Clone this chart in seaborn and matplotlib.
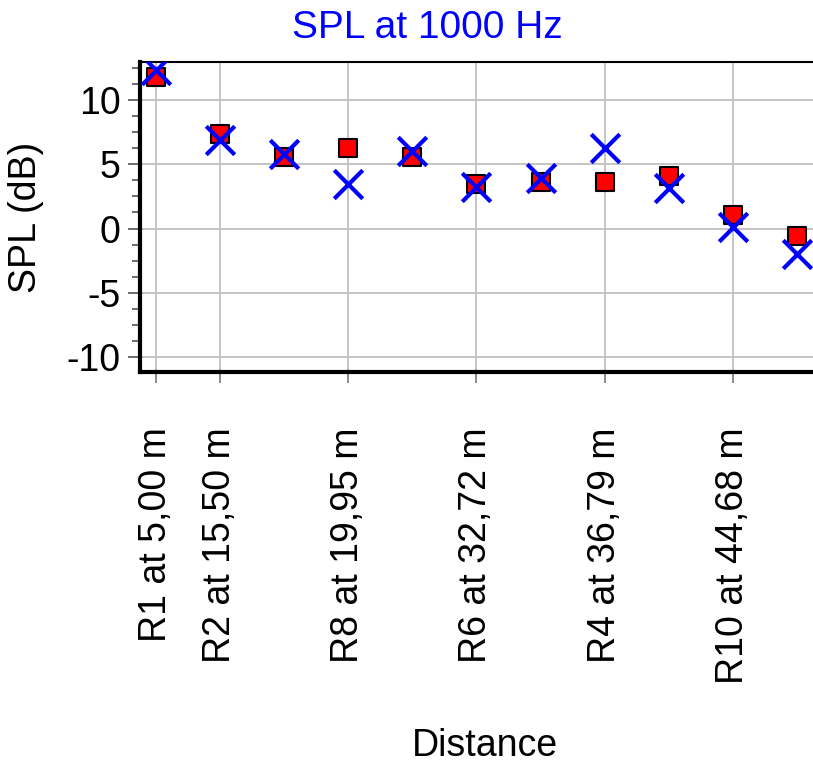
import numpy as np
import pandas as pd
import matplotlib
matplotlib.use("Agg")
import matplotlib.pyplot as plt
from matplotlib.ticker import MultipleLocator
import seaborn as sns

# receiver index along the x axis (evenly spaced categories)
receiver_idx = [0, 1, 2, 3, 4, 5, 6, 7, 8, 9, 10]
spl_measured = [11.8, 7.35, 5.6, 6.3, 5.6, 3.45, 3.65, 3.65, 4.1, 1.05, -0.6]
spl_predicted = [12.3, 6.85, 5.8, 3.5, 6.0, 3.2, 3.9, 6.3, 3.15, 0.1, -2.0]

# only some receivers get a visible label
tick_idx = [0, 1, 3, 5, 7, 9]
tick_labels = ["R1 at 5,00 m", "R2 at 15,50 m", "R8 at 19,95 m",
               "R6 at 32,72 m", "R4 at 36,79 m", "R10 at 44,68 m"]
y_ticks = [-10, -5, 0, 5, 10]

sns.set_style("white")
plt.rcParams["font.family"] = ["Liberation Sans", "DejaVu Sans"]
plt.rcParams["text.color"] = "black"
plt.rcParams["axes.labelcolor"] = "black"
plt.rcParams["xtick.labelcolor"] = "black"
plt.rcParams["ytick.labelcolor"] = "black"

df = pd.DataFrame({"idx": receiver_idx, "measured": spl_measured, "predicted": spl_predicted})

fig = plt.figure(figsize=(8.13, 7.64), dpi=100)
ax = fig.add_axes([140 / 813, 392 / 764, 689 / 813, 310 / 764])

sns.scatterplot(data=df, x="idx", y="measured", marker="s", color="red",
                edgecolor="black", linewidth=1.5, s=185, ax=ax, zorder=3)
sns.scatterplot(data=df, x="idx", y="predicted", marker="x", color="blue",
                linewidth=3, s=420, ax=ax, zorder=4)

ax.set_xlim(-0.25, 10.5)
ax.set_ylim(-11.15, 12.95)

ax.set_xticks(tick_idx)
ax.set_xticklabels(tick_labels, rotation=90, fontsize=27)
ax.set_yticks(y_ticks)
ax.set_yticklabels([str(v) for v in y_ticks], fontsize=27)
ax.yaxis.set_minor_locator(MultipleLocator(1.25))

ax.grid(True, which="major", color="#c0c0c0", linewidth=1.3)
ax.set_axisbelow(True)

ax.tick_params(axis="x", which="major", length=8, width=1.3, color="#808080",
               pad=32, bottom=True, direction="out")
ax.tick_params(axis="y", which="major", length=9, width=1.3, color="#606060",
               pad=5, left=True, direction="out")
ax.tick_params(axis="y", which="minor", length=6, width=1.3, color="#606060",
               left=True, direction="out")

for side in ["left", "bottom"]:
    ax.spines[side].set_linewidth(3)
    ax.spines[side].set_color("black")
ax.spines["top"].set_linewidth(1.5)
ax.spines["top"].set_color("black")
ax.spines["right"].set_visible(False)

ax.set_ylabel("SPL (dB)", fontsize=27)
ax.yaxis.set_label_coords(-0.14, 0.5)
ax.set_xlabel("Distance", fontsize=27)
ax.xaxis.set_label_coords(0.5, -1.15)

fig.text(427 / 813, 1 - 28 / 764, "SPL at 1000 Hz", color="blue",
         fontsize=28, ha="center", va="center")

fig.savefig("out.png", dpi=100)
